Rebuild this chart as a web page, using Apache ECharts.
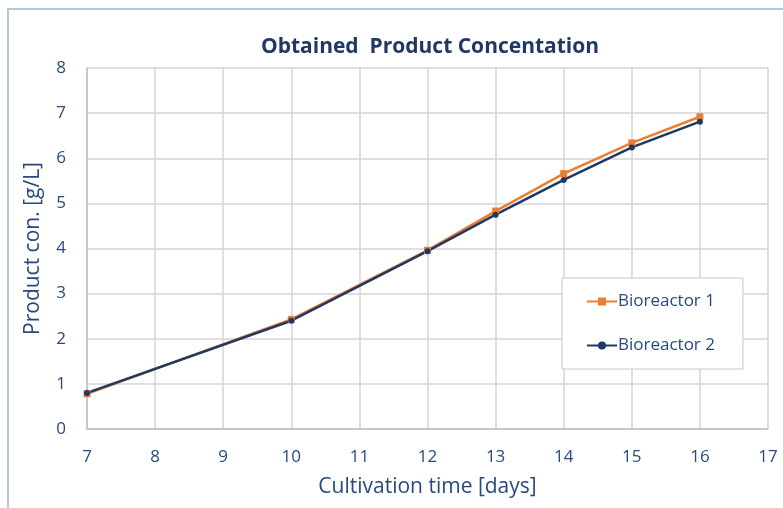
<!DOCTYPE html>
<html>
<head>
<meta charset="utf-8">
<script src="https://cdn.jsdelivr.net/npm/echarts@6/dist/echarts.min.js"></script>
<style>
  html, body { margin: 0; padding: 0; background: #fff; }
  #wrap { position: relative; width: 783px; height: 508px; }
  #frame { position: absolute; left: 7px; top: 8px; right: -5px; bottom: -5px;
           border-top: 2px solid #b7c8dc; border-left: 2px solid #b7c8dc; }
  #main { position: absolute; left: 0; top: 0; width: 783px; height: 508px; }
</style>
</head>
<body>
<div id="wrap">
  <div id="frame"></div>
  <div id="main"></div>
</div>
<script>
// days of cultivation
const days = [7, 10, 12, 13, 14, 15, 16];
// product concentration g/L
const bioreactor1 = [0.78, 2.43, 3.96, 4.83, 5.66, 6.34, 6.92];
const bioreactor2 = [0.80, 2.40, 3.94, 4.75, 5.52, 6.24, 6.81];

const textColor = "#284a7e";
const gridColor = "#d4d4d4";

function pairs(xs, ys) {
  return xs.map((x, i) => [x, ys[i]]);
}

let myChart = echarts.init(document.getElementById("main"));
myChart.setOption({
  animation: false,
  textStyle: { fontFamily: "Open Sans" },
  title: {
    text: "Obtained  Product Concentation",
    left: 425,
    textAlign: "center",
    top: 32,
    textStyle: { color: "#203864", fontSize: 21, fontWeight: "bold", fontFamily: "Open Sans" }
  },
  grid: { left: 87, right: 15, top: 68, bottom: 79 },
  color: ["#ed7d31", "#1f3864"],
  legend: {
    orient: "vertical",
    left: 562,
    top: 278,
    padding: [15, 28, 15, 24],
    itemGap: 27,
    itemWidth: 30,
    itemHeight: 10,
    backgroundColor: "#fff",
    borderColor: "#c8c8c8",
    borderWidth: 1,
    textStyle: { color: textColor, fontSize: 17, padding: [0, 0, 0, -4] },
    data: ["Bioreactor 1", "Bioreactor 2"]
  },
  xAxis: {
    type: "value",
    min: 7,
    max: 17,
    interval: 1,
    name: "Cultivation time [days]",
    nameLocation: "middle",
    nameGap: 48,
    nameTextStyle: { color: textColor, fontSize: 21 },
    axisLine: { show: true, lineStyle: { color: "#bfbfbf", width: 1.5 } },
    axisTick: { show: false },
    axisLabel: { color: textColor, fontSize: 17, margin: 20 },
    splitLine: { show: true, lineStyle: { color: gridColor, width: 1.5 } }
  },
  yAxis: {
    type: "value",
    min: 0,
    max: 8,
    interval: 1,
    name: "Product con. [g/L]",
    nameLocation: "middle",
    nameGap: 43,
    nameTextStyle: { color: textColor, fontSize: 21 },
    axisLine: { show: true, lineStyle: { color: "#bfbfbf", width: 1.5 } },
    axisTick: { show: false },
    axisLabel: { color: textColor, fontSize: 17, margin: 21 },
    splitLine: { show: true, lineStyle: { color: gridColor, width: 1.5 } }
  },
  series: [
    {
      name: "Bioreactor 1",
      type: "line",
      symbol: "rect",
      symbolSize: 7,
      lineStyle: { width: 2.5 },
      data: pairs(days, bioreactor1)
    },
    {
      name: "Bioreactor 2",
      type: "line",
      symbol: "circle",
      symbolSize: 6,
      lineStyle: { width: 2.5 },
      data: pairs(days, bioreactor2)
    }
  ]
});
</script>
</body>
</html>
